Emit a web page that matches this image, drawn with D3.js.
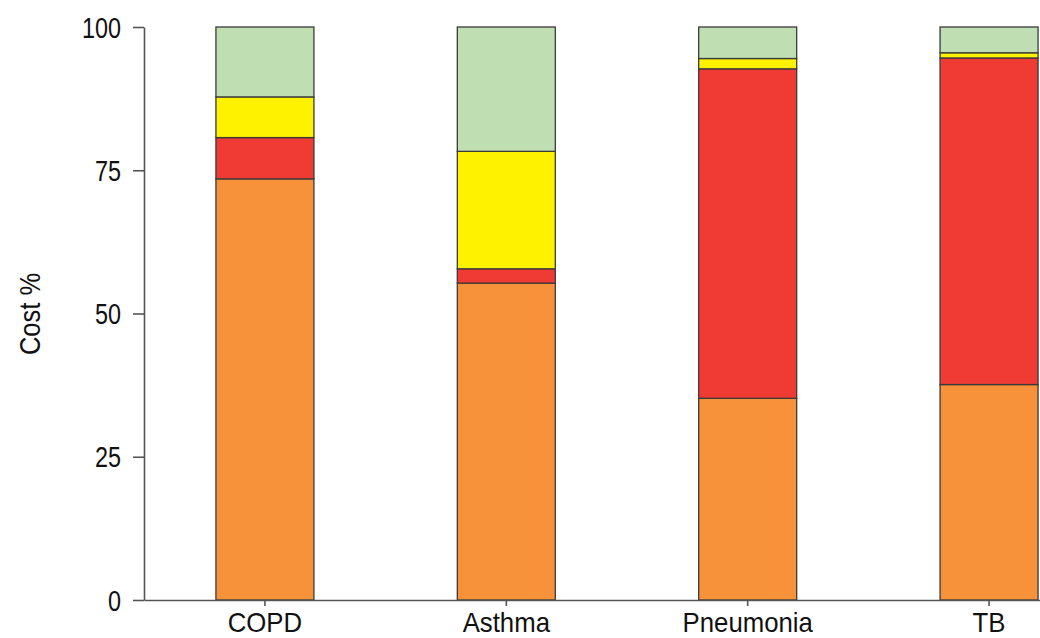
<!DOCTYPE html>
<html><head><meta charset="utf-8">
<script src="https://cdn.jsdelivr.net/npm/d3@7"></script>
<style>
html,body{margin:0;padding:0;background:#fff;}
svg{display:block;}
.ax text{font-family:"Liberation Sans",Arial,sans-serif;font-size:30px;fill:#111;}
</style></head><body>
<svg id="c" width="1040" height="638"></svg>
<script>
const categories = ["COPD","Asthma","Pneumonia","TB"];
const seriesKeys = ["s1","s2","s3","s4"];
const s1 = [73.5, 55.3, 35.2, 37.6];   // orange (bottom)
const s2 = [7.2, 2.5, 57.5, 57.0];     // red
const s3 = [7.1, 20.5, 1.8, 0.9];      // yellow
const s4 = [12.2, 21.7, 5.5, 4.5];     // green (top)
const yTicks = [0, 25, 50, 75, 100];
const colors = ["#F7923A", "#EF3B33", "#FFF200", "#BFDFB3"];

const rows = categories.map((c, i) => ({cat: c, s1: s1[i], s2: s2[i], s3: s3[i], s4: s4[i]}));
const stack = d3.stack().keys(seriesKeys)(rows);

const svg = d3.select("#c");
const x = d3.scaleBand().domain(categories).range([144, 1110]).paddingInner(0.594).paddingOuter(0.298);
const y = d3.scaleLinear().domain([0, 100]).range([600, 27]);

svg.append("g").selectAll("g").data(stack).join("g")
  .attr("fill", (d, i) => colors[i])
  .selectAll("rect").data(d => d).join("rect")
  .attr("x", d => x(d.data.cat))
  .attr("width", x.bandwidth())
  .attr("y", d => y(d[1]))
  .attr("height", d => y(d[0]) - y(d[1]))
  .attr("stroke", "#3a3a3a").attr("stroke-width", 1.3);

const ya = svg.append("g").attr("class", "ax").attr("transform", "translate(144,0)")
  .call(d3.axisLeft(y).tickValues(yTicks).tickSize(11).tickSizeOuter(0).tickPadding(12));
const xa = svg.append("g").attr("class", "ax").attr("transform", "translate(0,600)")
  .call(d3.axisBottom(x).tickSize(6).tickSizeOuter(0).tickPadding(6));
svg.selectAll(".ax path, .ax line").attr("stroke", "#555").attr("stroke-width", 1.6);
const sy = 0.78;
ya.selectAll("text").attr("x", -23 / sy).attr("dy", "0.34em").attr("transform", `scale(${sy},1)`);
xa.selectAll("text").style("font-size", "28px").attr("transform", "scale(0.92,1)");

svg.append("text").attr("transform", "translate(40,314) rotate(-90) scale(0.85,1)")
  .attr("text-anchor", "middle")
  .style("font-family", '"Liberation Sans",Arial,sans-serif')
  .style("font-size", "30px").attr("fill", "#111").text("Cost %");
</script></body></html>
